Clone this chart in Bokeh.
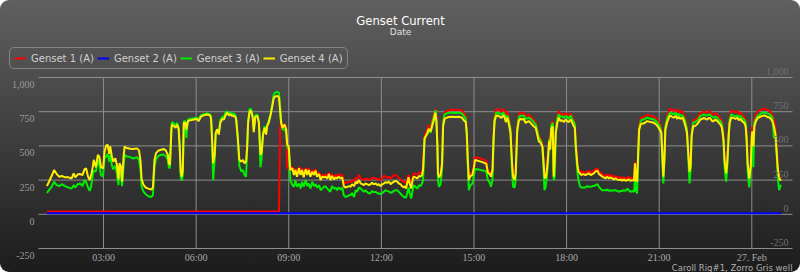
from bokeh.plotting import figure
from bokeh.models import (Range1d, Label, LabelSet, ColumnDataSource, Legend, LegendItem)
from bokeh.embed import file_html
from bokeh.resources import INLINE

# ---------------- data (minutes after 00:00, 26 Feb) ----------------
minutes = [
    70, 74, 80, 84, 89, 94, 99, 105, 112, 118, 122, 125, 130, 135, 139, 143, 146, 150, 153, 156,
    159, 161, 165, 169, 172, 175, 179, 182, 185, 188, 191, 193, 196, 199, 203, 206, 209, 211, 214, 216,
    219, 221, 225, 232, 238, 245, 249, 252, 254, 258, 262, 267, 273, 276, 279, 282, 287, 292,
    297, 301, 305, 307, 309, 312, 313, 317, 320, 323, 326, 328, 330, 332, 334, 336, 339, 341, 344, 349,
    356, 361, 365, 369, 374, 381, 387, 389, 391, 393, 396, 398, 401, 404, 407, 411, 414, 417, 420, 424,
    427, 430, 433, 437, 438, 441, 444, 448, 451, 454, 457, 459, 461, 464, 467, 470, 472, 475, 479, 482,
    485, 487, 490, 493, 496, 498, 501, 505, 508, 511, 514, 518, 521, 523, 525, 528,
    532, 535, 537, 540, 543, 547, 550, 553, 556, 560, 563, 566, 569, 573, 576, 579, 582, 586, 589, 592,
    595, 599, 602, 605, 608, 611, 615, 618, 621, 624, 628, 631, 634, 637, 641, 644, 647, 650, 654, 657,
    660, 663, 667, 670, 673, 676, 680, 683, 686, 689, 692, 696, 699, 702, 705, 709, 712, 715, 718, 722,
    725, 728, 731, 735, 738, 741, 744, 748, 751, 754, 757, 760, 764,
    765, 768, 770, 773, 775, 778, 781, 783, 786, 790, 793, 796, 799, 801, 804, 806, 809, 812, 816, 819,
    822, 825, 827, 829, 830, 832, 835, 838, 840, 843, 847, 851, 858, 864, 871, 877, 880, 884, 886, 888,
    890, 893, 897, 900, 902, 906, 913, 919, 924, 927, 931, 933, 936, 938, 940, 943, 946, 950, 954, 957,
    959, 962, 965, 968, 971, 974, 976, 979, 981, 984, 987, 990, 994, 997,
    1000, 1007, 1013, 1016, 1020, 1023, 1026, 1029, 1033, 1035, 1037, 1039, 1041, 1044, 1046, 1048, 1050, 1053, 1055, 1057,
    1059, 1062, 1065, 1068, 1071, 1075, 1078, 1081, 1084, 1088, 1091, 1094, 1096, 1098, 1101, 1103, 1106, 1108, 1112, 1117,
    1120, 1123, 1127, 1130, 1133, 1136, 1140, 1143, 1146, 1149, 1152, 1156, 1159, 1162, 1165, 1169, 1172, 1175, 1178, 1182,
    1185, 1188, 1191, 1195, 1198, 1201, 1204, 1208, 1211, 1213, 1215, 1217, 1219, 1221, 1224, 1227, 1230,
    1237, 1243, 1250, 1256, 1261, 1264, 1266, 1268, 1270, 1272, 1276, 1281, 1285, 1288, 1292, 1295, 1298, 1301, 1305, 1308,
    1311, 1314, 1317, 1319, 1321, 1323, 1326, 1329, 1333, 1337, 1340, 1344, 1347, 1350, 1353, 1357, 1360, 1363, 1366, 1369,
    1373, 1376, 1379, 1382, 1385, 1387, 1390, 1392, 1395, 1397, 1400, 1404, 1408, 1412, 1415, 1418, 1421, 1425, 1428, 1430,
    1432, 1435, 1438, 1440, 1441, 1443, 1445, 1448, 1452, 1456, 1460, 1465, 1470, 1475, 1480, 1483, 1486, 1488, 1491, 1493,
    1495, 1497,
]

genset4 = [
    206, 238, 287, 324, 294, 275, 280, 270, 270, 262, 299, 270, 292, 294, 287, 329, 336, 275, 250, 287,
    344, 398, 344, 435, 418, 344, 336, 459, 501, 509, 442, 496, 427, 385, 410, 361, 255, 373, 349, 238,
    422, 496, 484, 479, 477, 482, 467, 385, 255, 213, 196, 188, 181, 196, 398, 447, 467, 472,
    477, 467, 435, 373, 361, 632, 656, 644, 632, 656, 624, 496, 312, 275, 324, 669, 669, 620, 681, 688,
    693, 698, 681, 713, 723, 730, 723, 698, 546, 373, 435, 595, 620, 583, 669, 698, 693, 723, 743, 723,
    730, 718, 723, 706, 681, 558, 398, 385, 398, 373, 385, 484, 669, 755, 755, 706, 600, 713, 718, 669,
    435, 447, 583, 632, 583, 644, 669, 730, 792, 853, 861, 866, 853, 767, 669, 632,
    656, 620, 509, 496, 324, 336, 287, 324, 275, 336, 287, 324, 270, 329, 287, 324, 275, 312, 287, 319,
    275, 294, 250, 275, 270, 275, 262, 294, 250, 280, 255, 270, 262, 275, 262, 270, 206, 196, 201, 206,
    201, 220, 206, 238, 225, 250, 225, 220, 213, 225, 220, 213, 220, 230, 220, 225, 213, 220, 206, 220,
    225, 235, 230, 238, 220, 230, 238, 245, 238, 225, 220, 206, 196,
    206, 188, 225, 270, 225, 188, 255, 275, 270, 262, 280, 275, 287, 324, 558, 570, 590, 624, 607, 649,
    688, 743, 681, 496, 299, 270, 287, 373, 644, 698, 706, 711, 713, 711, 713, 706, 688, 674, 595, 398,
    250, 280, 287, 344, 398, 393, 385, 378, 368, 304, 294, 275, 324, 546, 681, 718, 723, 713, 706, 723,
    713, 674, 706, 656, 595, 373, 275, 250, 299, 607, 681, 698, 693, 698,
    669, 681, 656, 644, 632, 583, 533, 526, 496, 398, 275, 262, 299, 422, 533, 472, 620, 644, 275, 398,
    595, 669, 706, 681, 688, 674, 693, 681, 674, 693, 669, 644, 632, 496, 361, 312, 299, 287, 294, 287,
    294, 299, 287, 294, 299, 312, 319, 294, 287, 275, 270, 262, 275, 262, 270, 262, 255, 262, 255, 250,
    255, 245, 255, 245, 250, 255, 245, 250, 245, 373, 250, 238, 435, 620, 656, 664, 664,
    681, 674, 669, 649, 620, 595, 447, 275, 398, 620, 681, 723, 713, 706, 718, 698, 713, 698, 706, 681,
    644, 595, 422, 312, 349, 570, 644, 644, 656, 674, 693, 698, 706, 698, 693, 706, 698, 681, 681, 693,
    681, 669, 656, 632, 546, 398, 299, 361, 570, 669, 706, 706, 698, 706, 688, 698, 681, 669, 644, 546,
    373, 262, 349, 570, 607, 496, 644, 681, 706, 713, 718, 723, 713, 706, 681, 644, 583, 472, 312, 275,
    250, 255,
]

genset3 = [
    156, 176, 206, 238, 213, 206, 220, 206, 196, 188, 213, 196, 220, 225, 206, 250, 238, 196, 171, 206,
    287, 319, 312, 398, 361, 287, 275, 410, 422, 442, 385, 435, 361, 329, 354, 299, 213, 324, 287, 206,
    354, 435, 422, 418, 408, 418, 398, 324, 201, 164, 147, 132, 127, 139, 344, 403, 427, 435,
    435, 427, 398, 344, 336, 620, 674, 664, 644, 669, 632, 484, 275, 245, 287, 681, 681, 558, 693, 698,
    703, 706, 693, 723, 730, 738, 730, 713, 533, 250, 398, 583, 624, 600, 688, 713, 713, 743, 753, 738,
    743, 733, 738, 718, 693, 546, 354, 312, 324, 287, 275, 459, 681, 772, 767, 718, 620, 723, 728, 681,
    344, 398, 583, 644, 600, 656, 681, 743, 804, 878, 890, 895, 890, 792, 693, 620,
    620, 595, 496, 472, 250, 213, 201, 250, 201, 225, 188, 238, 201, 250, 206, 225, 188, 238, 206, 220,
    196, 213, 176, 188, 201, 206, 188, 176, 164, 206, 188, 196, 176, 196, 181, 196, 139, 127, 132, 139,
    139, 156, 127, 176, 164, 196, 188, 176, 164, 176, 164, 152, 156, 171, 161, 164, 156, 152, 147, 156,
    166, 176, 171, 166, 156, 161, 171, 176, 176, 164, 152, 139, 127,
    122, 122, 152, 196, 156, 115, 181, 213, 201, 188, 213, 206, 225, 250, 546, 565, 583, 607, 600, 669,
    713, 762, 693, 484, 250, 201, 220, 324, 669, 730, 738, 743, 743, 740, 743, 735, 723, 698, 583, 361,
    176, 213, 225, 287, 329, 329, 324, 319, 312, 250, 230, 201, 250, 533, 693, 743, 743, 738, 728, 743,
    733, 698, 723, 681, 620, 312, 201, 196, 250, 620, 706, 723, 718, 723,
    698, 706, 688, 674, 656, 607, 558, 546, 496, 349, 176, 196, 250, 373, 546, 472, 644, 669, 250, 275,
    607, 698, 730, 713, 718, 703, 718, 713, 698, 723, 693, 674, 656, 472, 312, 250, 206, 196, 196, 196,
    206, 201, 201, 206, 206, 213, 220, 201, 188, 176, 176, 176, 181, 171, 176, 171, 176, 176, 171, 164,
    171, 171, 176, 171, 188, 176, 164, 171, 164, 250, 176, 152, 373, 620, 681, 693, 693,
    706, 698, 693, 674, 644, 607, 398, 225, 373, 644, 706, 743, 738, 730, 743, 723, 733, 723, 723, 706,
    674, 620, 373, 225, 324, 583, 669, 674, 681, 698, 718, 723, 730, 723, 723, 730, 723, 713, 706, 713,
    706, 688, 681, 656, 533, 349, 238, 324, 583, 693, 730, 723, 718, 723, 713, 718, 706, 693, 669, 533,
    312, 196, 324, 570, 595, 344, 669, 698, 723, 730, 743, 743, 738, 730, 706, 558, 570, 459, 250, 176,
    201, 215,
]

# Genset 1: idle until ~08:41, then running (values for the last minutes of the log)
genset1_idle_minutes = [70, 521]
genset1_idle = [20, 20]
genset1_run = [
    620, 669, 645,
    660, 630, 340, 335, 335, 345, 300, 335, 290, 345, 300, 335, 285, 340, 300, 335, 290, 325, 300, 330,
    290, 305, 265, 290, 285, 290, 280, 305, 268, 295, 272, 288, 280, 292, 282, 290, 235, 228, 232, 238,
    235, 252, 238, 268, 258, 290, 262, 255, 250, 260, 258, 252, 258, 268, 262, 265, 255, 258, 250, 262,
    285, 272, 268, 275, 260, 270, 285, 285, 278, 265, 258, 245, 235,
    240, 225, 255, 290, 255, 215, 275, 300, 295, 290, 305, 300, 310, 340, 575, 590, 615, 650, 640, 685,
    730, 770, 720, 500, 305, 280, 295, 385, 675, 745, 755, 760, 765, 762, 765, 758, 740, 720, 620, 405,
    262, 295, 302, 360, 418, 415, 408, 400, 390, 320, 310, 290, 335, 560, 720, 765, 770, 760, 752, 772,
    760, 715, 752, 698, 630, 385, 288, 262, 312, 640, 725, 745, 740, 745,
    715, 728, 700, 690, 675, 620, 565, 560, 520, 410, 285, 272, 310, 440, 560, 490, 655, 680, 290, 410,
    625, 712, 755, 730, 735, 720, 740, 728, 720, 738, 712, 685, 670, 515, 375, 325, 318, 305, 312, 305,
    312, 318, 305, 312, 318, 328, 335, 312, 305, 292, 288, 280, 292, 280, 288, 280, 272, 280, 272, 268,
    272, 262, 272, 262, 268, 272, 262, 268, 262, 380, 265, 252, 450, 650, 700, 710, 710,
    728, 720, 715, 695, 660, 630, 460, 285, 410, 660, 728, 772, 762, 755, 768, 745, 762, 745, 755, 728,
    690, 630, 435, 322, 360, 600, 690, 690, 702, 720, 740, 745, 755, 745, 740, 755, 745, 728, 728, 740,
    728, 715, 700, 675, 575, 410, 310, 372, 600, 712, 755, 755, 745, 755, 735, 745, 728, 715, 688, 575,
    385, 272, 360, 600, 640, 520, 688, 728, 755, 762, 768, 772, 762, 755, 728, 688, 620, 495, 322, 285,
    262, 262,
]

genset2_minutes = [70, 1497]
genset2 = [8, 8]

series_names = ["Genset 1 (A)", "Genset 2 (A)", "Genset 3 (A)", "Genset 4 (A)"]
y_ticks = [-250, 0, 250, 500, 750, 1000]
y_tick_labels = ["-250", "0", "250", "500", "750", "1,000"]
x_ticks = [180, 360, 540, 720, 900, 1080, 1260, 1440]
x_tick_labels = ["03:00", "06:00", "09:00", "12:00", "15:00", "18:00", "21:00", "27. Feb"]

# ---------------- layout ----------------
W, H = 800, 272
FONT = "DejaVu Sans"
# plot area in data units (time axis in minutes, current in A)
X_MIN, X_MAX = 53.6, 1519.1
Y_MIN, Y_MAX = -250, 1000
# the frame covers the whole canvas, so texts outside the plot area are not clipped
MIN_PER_PX = (X_MAX - X_MIN) / 754.0
A_PER_PX = (Y_MAX - Y_MIN) / 171.0
x_range = Range1d(X_MIN - 38 * MIN_PER_PX, X_MAX + 8 * MIN_PER_PX)
y_range = Range1d(Y_MIN - 24 * A_PER_PX, Y_MAX + 77 * A_PER_PX)

p = figure(width=W, height=H, output_backend="svg", toolbar_location=None,
           x_range=x_range, y_range=y_range,
           x_axis_location=None, y_axis_location=None,
           min_border_left=0, min_border_right=0, min_border_top=0, min_border_bottom=0)
p.grid.visible = False
p.background_fill_alpha = 0
p.border_fill_alpha = 0
p.outline_line_color = None
p.styles = {"background": "linear-gradient(to bottom, #606060 0%, #1c1c1c 100%)",
            "border-radius": "9px"}

grid_color = "#8e8e8e"
# horizontal grid lines
p.segment(x0=X_MIN, x1=X_MAX, y0=y_ticks, y1=y_ticks, line_color=grid_color, line_width=1)
# vertical grid lines
p.segment(x0=x_ticks, x1=x_ticks, y0=Y_MIN, y1=Y_MAX, line_color=grid_color, line_width=1)

# series
g1_x = genset1_idle_minutes + minutes[len(minutes) - len(genset1_run):]
g1_y = genset1_idle + genset1_run
r1 = p.line(g1_x, g1_y, line_color="#ff0000", line_width=2)
r2 = p.line(genset2_minutes, genset2, line_color="#0000ff", line_width=2)
r3 = p.line(minutes, genset3, line_color="#00ee00", line_width=2)
r4 = p.line(minutes, genset4, line_color="#ffee00", line_width=2)

# x tick labels
xsrc = ColumnDataSource(dict(x=x_ticks, text=x_tick_labels))
p.add_layout(LabelSet(x="x", y=Y_MIN, text="text", source=xsrc, y_offset=-3,
                      text_align="center", text_baseline="top",
                      text_font=FONT, text_font_size="10px", text_color="#a8a8a8"))

# y tick labels (left: below the lines, right: above the lines, inside the plot)
ysrc = ColumnDataSource(dict(y=y_ticks, text=y_tick_labels))
p.add_layout(LabelSet(x=34, y="y", text="text", source=ysrc, x_units="screen",
                      y_offset=-7, text_align="right", text_baseline="middle",
                      text_font=FONT, text_font_size="10px", text_color="#9a9a9a"))
p.add_layout(LabelSet(x=788, y="y", text="text", source=ysrc, x_units="screen",
                      y_offset=6, text_align="right", text_baseline="middle",
                      text_font=FONT, text_font_size="10px", text_color="#727272"))

# legend
legend = Legend(items=[LegendItem(label=n, renderers=[r]) for n, r in zip(series_names, [r1, r2, r3, r4])],
                orientation="horizontal", location=(9, H - 69),
                label_text_font=FONT, label_text_font_size="10px", label_text_color="#d0d0d0",
                label_height=12, glyph_height=12, glyph_width=12, label_standoff=5,
                spacing=3, padding=4, margin=0,
                border_line_color="#909090", border_line_alpha=0.8, border_line_width=1,
                background_fill_alpha=0)
if "border_radius" in Legend.properties():
    legend.border_radius = 5
p.add_layout(legend)

# titles and credits
p.add_layout(Label(x=400, y=H - 20, x_units="screen", y_units="screen",
                   text="Genset Current", text_align="center", text_baseline="alphabetic",
                   text_font=FONT, text_font_size="11.6px", text_color="#ffffff"))
p.add_layout(Label(x=400, y=H - 31, x_units="screen", y_units="screen",
                   text="Date", text_align="center", text_baseline="alphabetic",
                   text_font=FONT, text_font_size="9px", text_color="#e0e0e0"))
p.add_layout(Label(x=792, y=H - 267, x_units="screen", y_units="screen",
                   text="Caroll Rig#1, Zorro Gris well", text_align="right", text_baseline="alphabetic",
                   text_font=FONT, text_font_size="8.5px", text_color="#b0b0b0"))

open("out.html", "w").write(file_html(p, INLINE))
